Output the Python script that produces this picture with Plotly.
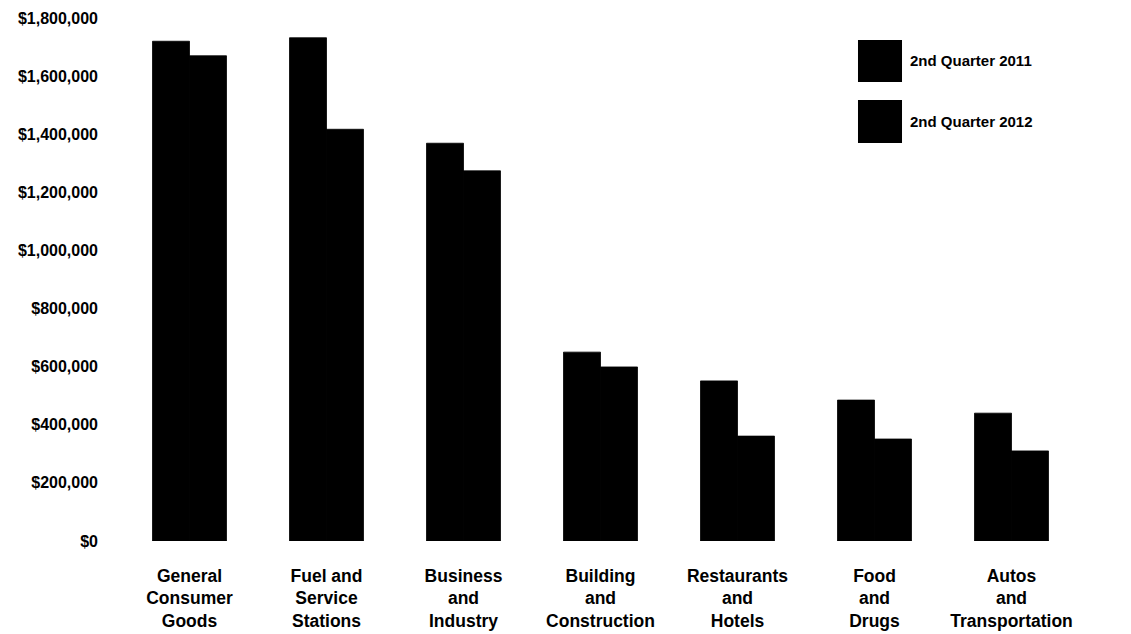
import plotly.graph_objects as go

categories = ["General<br>Consumer<br>Goods", "Fuel and<br>Service<br>Stations",
              "Business<br>and<br>Industry", "Building<br>and<br>Construction",
              "Restaurants<br>and<br>Hotels", "Food<br>and<br>Drugs",
              "Autos<br>and<br>Transportation"]
q2_2011 = [1720000, 1732000, 1369000, 650000, 551000, 485000, 440000]
q2_2012 = [1670000, 1417000, 1274000, 599000, 361000, 351000, 310000]
series_names = ["2nd Quarter 2011", "2nd Quarter 2012"]
tick_vals = [0, 200000, 400000, 600000, 800000, 1000000, 1200000, 1400000, 1600000, 1800000]
tick_text = ["$0", "$200,000", "$400,000", "$600,000", "$800,000", "$1,000,000",
             "$1,200,000", "$1,400,000", "$1,600,000", "$1,800,000"]

FONT = "Liberation Sans, Arial, sans-serif"

fig = go.Figure()
fig.add_trace(go.Bar(x=categories, y=q2_2011, name=series_names[0],
                     marker=dict(color="black", line=dict(width=0.8, color="black"))))
fig.add_trace(go.Bar(x=categories, y=q2_2012, name=series_names[1],
                     marker=dict(color="black", line=dict(width=0.8, color="black"))))

# legend drawn as large squares with labels (top right)
leg = [(0.958, 0.8776, 0.9178), (0.8432, 0.761, 0.803)]
for (y1, y0, ty), name in zip(leg, series_names):
    fig.add_shape(type="rect", xref="paper", yref="paper", x0=0.7685, x1=0.8144,
                  y0=y0, y1=y1, fillcolor="black", line=dict(width=0))
    fig.add_annotation(xref="paper", yref="paper", x=0.8206, y=ty, text=name,
                       showarrow=False, xanchor="left", yanchor="middle",
                       font=dict(family=FONT, size=15, color="black", weight="bold"))

fig.update_layout(
    width=1131, height=634,
    margin=dict(l=121, r=51, t=18, b=93),
    paper_bgcolor="white", plot_bgcolor="white",
    barmode="group", bargap=0.46, bargroupgap=0,
    showlegend=False,
    font=dict(family=FONT, color="black"),
)
fig.update_yaxes(range=[0, 1800000], tickvals=tick_vals, ticktext=tick_text,
                 showgrid=False, zeroline=False, showline=False, automargin=False,
                 ticklabelstandoff=22,
                 tickfont=dict(family=FONT, size=16, color="black", weight="bold"))
fig.update_xaxes(showgrid=False, showline=False, zeroline=False, automargin=False,
                 ticklabelstandoff=22,
                 tickfont=dict(family=FONT, size=17.5, color="black", weight="bold"))

fig.write_html("out.html")
